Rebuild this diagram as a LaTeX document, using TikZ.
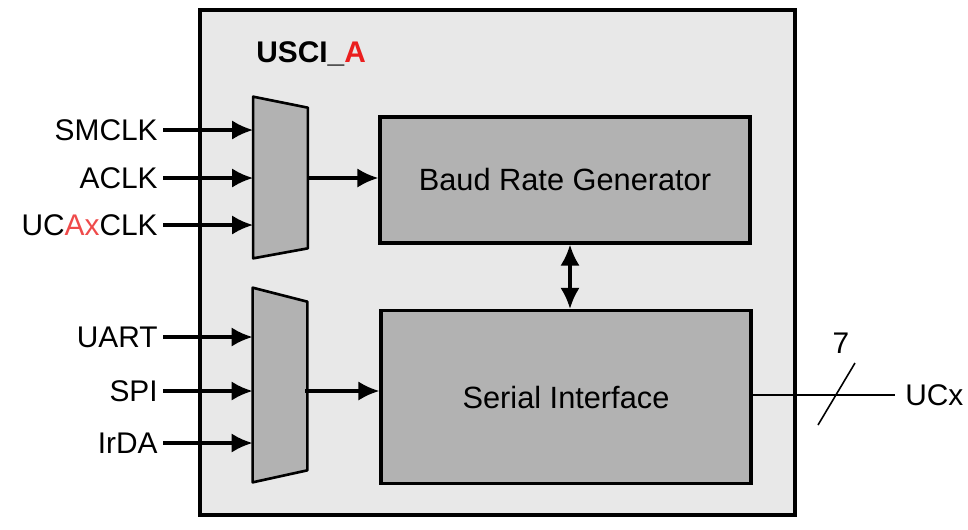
\documentclass[tikz,border=0pt]{standalone}
\usepackage{fontspec}
\setmainfont{Liberation Sans}
\usetikzlibrary{positioning,arrows.meta}
\definecolor{panelgray}{RGB}{232,232,232}
\definecolor{blockgray}{RGB}{178,178,178}
\definecolor{labelred}{RGB}{235,30,30}

\begin{document}
\begin{tikzpicture}
[x=0.02cm, y=-0.02cm,
txt/.style={font=\fontsize{17}{20}\selectfont, inner sep=0pt},
panel/.style={rectangle, draw=black, fill=panelgray, line width=2.2pt, minimum width=11.9cm, minimum height=10.1cm},
blockbox/.style={rectangle, draw=black, fill=blockgray, line width=1.8pt, minimum width=7.4cm, font=\fontsize{17.5}{20}\selectfont},
muxbox/.style={rectangle, inner sep=0pt, minimum width=1.08cm},
muxshape/.style={draw=black, fill=blockgray, line width=1.5pt, line join=round},
sig/.style={line width=1.9pt, -{Latex[length=12pt, width=11pt]}},
bus/.style={line width=0.9pt},
]
\useasboundingbox (0,0) rectangle (968,529);

\node[panel] (usci) at (497.5,262.5) {};
\node[txt, anchor=west] (title) at (256,54) {\textbf{USCI\_\textcolor{labelred}{A}}};

% blocks
\node[blockbox, minimum height=2.52cm] (brg) at (565,180) {Baud Rate Generator};
\node[blockbox, minimum height=3.46cm] (serial) at (566,397) {Serial Interface};

% multiplexers
\node[muxbox, minimum height=3.22cm] (clkmux) at (280.5,177.5) {};
\node[muxbox, minimum height=3.88cm] (modemux) at (280,385) {};
\draw[muxshape] (clkmux.north west) -- ([yshift=-11*0.02cm]clkmux.north east)
  -- ([yshift=10*0.02cm]clkmux.south east) -- (clkmux.south west) -- cycle;
\draw[muxshape] (modemux.north west) -- ([yshift=-14*0.02cm]modemux.north east)
  -- ([yshift=12*0.02cm]modemux.south east) -- (modemux.south west) -- cycle;

% inputs
\node[txt, anchor=east] (smclk) at (158,130) {SMCLK};
\node[txt, anchor=east] (aclk) at (158,178) {ACLK};
\node[txt, anchor=east] (ucaxclk) at (158,225) {UC\textcolor{labelred!80}{Ax}CLK};
\node[txt, anchor=east] (uart) at (158,337) {UART};
\node[txt, anchor=east] (spi) at (158,391) {SPI};
\node[txt, anchor=east] (irda) at (158,443) {IrDA};

\foreach \n in {smclk,aclk,ucaxclk}
  \draw[sig] ([xshift=5*0.02cm]\n.east) -- (\n.east -| clkmux.west);
\foreach \n in {uart,spi,irda}
  \draw[sig] ([xshift=5*0.02cm]\n.east) -- (\n.east -| modemux.west);

% internal connections
\draw[sig] (clkmux.east |- aclk) -- (brg.west |- aclk);
\draw[sig] ([xshift=-2*0.02cm]modemux.east |- spi) -- (serial.west |- spi);
\draw[line width=1.9pt, {Latex[length=12pt, width=11pt]}-{Latex[length=12pt, width=11pt]}]
  (brg.south -| 570,0) -- (serial.north -| 570,0);

% output bus
\node[txt, anchor=west] (ucx) at (905,395) {UCx};
\node[txt] (width) at (841,343) {7};
\coordinate (slashlo) at (818,425);
\coordinate (slashhi) at (855,363);
\draw[bus] (serial.east |- ucx) -- ([xshift=-10*0.02cm]ucx.west);
\draw[bus] (slashlo) -- (slashhi);
\end{tikzpicture}
\end{document}
